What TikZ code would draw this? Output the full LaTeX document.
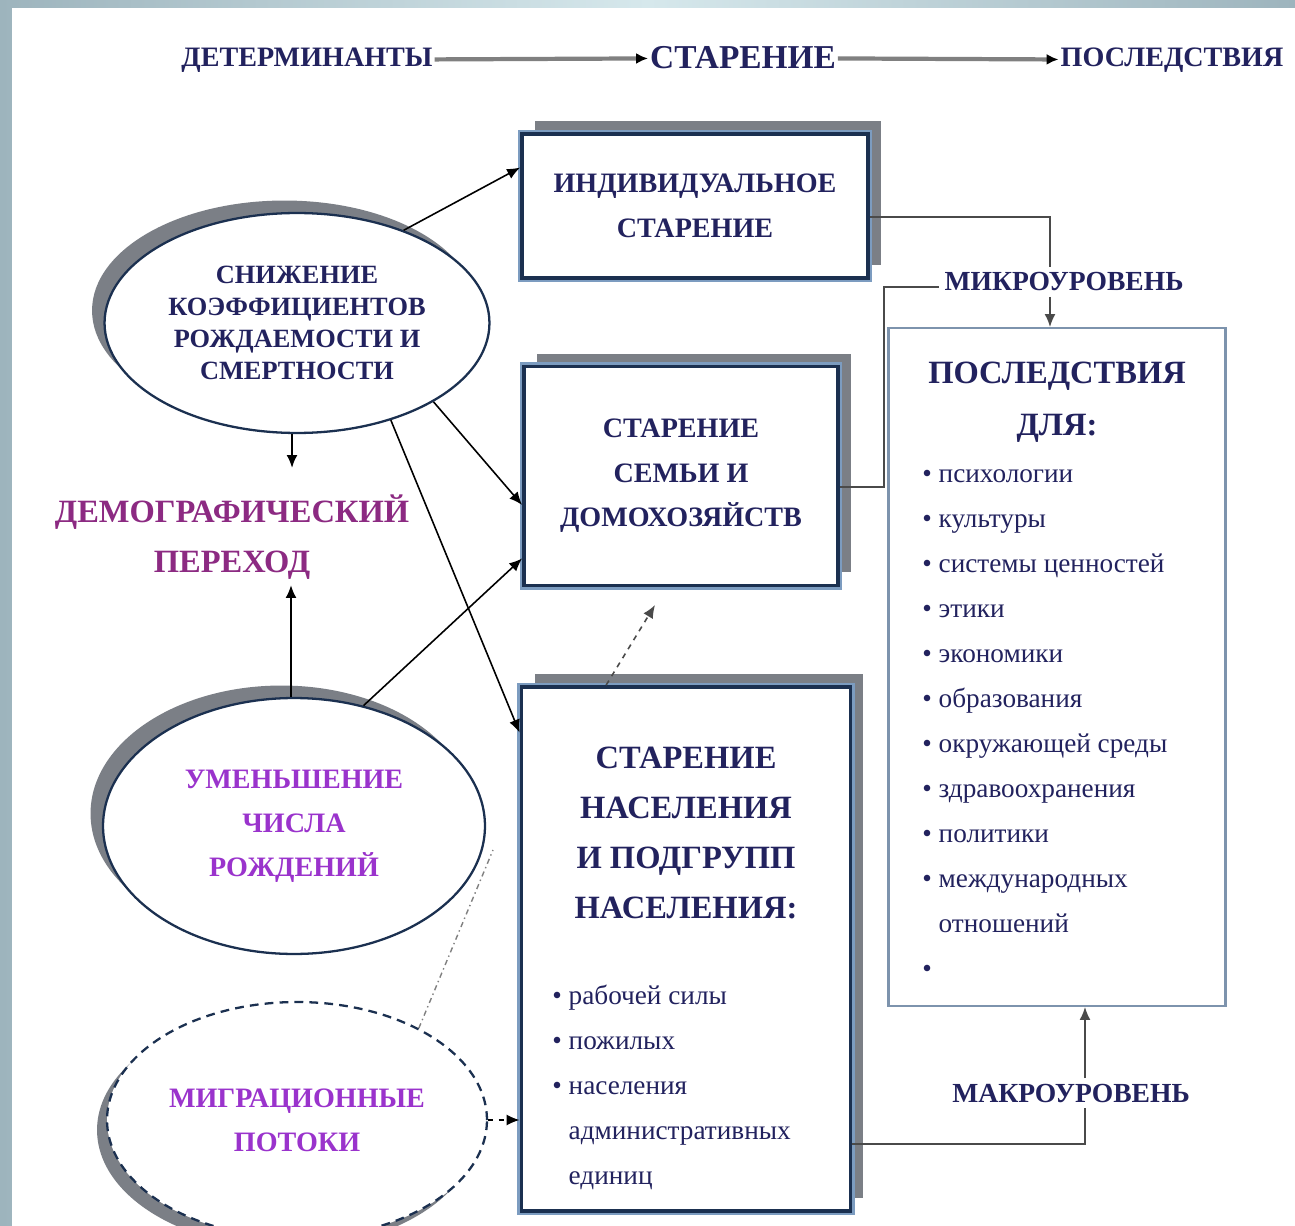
\documentclass[tikz,border=0pt]{standalone}
\usepackage{fontspec}
\setmainfont{Liberation Serif}
\usetikzlibrary{arrows.meta,shapes.geometric,shadows,calc}

\definecolor{textnavy}{HTML}{22225E}
\definecolor{demopurple}{HTML}{8C2A82}
\definecolor{birthviolet}{HTML}{9A33CC}
\definecolor{boxnavy}{HTML}{1B3050}
\definecolor{boxblue}{HTML}{7C9CC0}
\definecolor{shadowgrey}{HTML}{7B7F86}
\definecolor{framedark}{HTML}{9DB4BD}
\definecolor{framelight}{HTML}{D6E8EC}
\definecolor{linegrey}{HTML}{4A4A4A}

\begin{document}
\begin{tikzpicture}[x=0.02cm, y=-0.02cm,
    agebox/.style={drop shadow={shadow xshift=0.26cm, shadow yshift=0.26cm, fill=shadowgrey, opacity=1},
      preaction={draw=boxblue, line width=5pt}, draw=boxnavy, line width=2.2pt, fill=white,
      text=textnavy, align=center, inner sep=0pt},
    causeoval/.style={ellipse, draw=boxnavy, line width=1.3pt, fill=white, inner sep=0pt, align=center},
    ovalshadow/.style={drop shadow={shadow xshift=-0.25cm, shadow yshift=0.25cm, fill=shadowgrey, opacity=1}},
    migshadow/.style={drop shadow={shadow xshift=-0.2cm, shadow yshift=-0.2cm, fill=shadowgrey, opacity=1}},
    topflow/.style={draw=gray, line width=2.4pt, -{Latex[length=0.24cm, width=0.22cm, color=black]}},
    link/.style={draw=black, line width=0.9pt, -{Latex[length=0.26cm, width=0.22cm]}},
    levelline/.style={draw=linegrey, line width=1.1pt},
    listtext/.style={text=textnavy, align=left, inner sep=0pt, font=\fontsize{15.5}{25.6}\selectfont}]
  % frame of the slide
  \shade[left color=framedark, right color=framedark, middle color=framelight] (0,0) rectangle (1295,1226);
  \fill[white] (12,8) rectangle (1295,1226);
  \useasboundingbox (0,0) rectangle (1295,1226);
  % top line
  \node[inner sep=1pt, text=textnavy, font=\bfseries\fontsize{16}{18}\selectfont] (det) at (307,60) {ДЕТЕРМИНАНТЫ};
  \node[inner sep=1pt, text=textnavy, font=\bfseries\fontsize{19}{22}\selectfont] (star) at (743,58) {СТАРЕНИЕ};
  \node[inner sep=1pt, text=textnavy, font=\bfseries\fontsize{16}{18}\selectfont] (posl) at (1172,60) {ПОСЛЕДСТВИЯ};
  \draw[topflow] (det) -- (star);
  \draw[topflow] (star) -- (posl);
  % ageing boxes
  \node[agebox, minimum width=6.92cm, minimum height=2.88cm, font=\bfseries\fontsize{16}{25.6}\selectfont] (indiv) at (695,206) {ИНДИВИДУАЛЬНОЕ\\СТАРЕНИЕ};
  \node[agebox, minimum width=6.28cm, minimum height=4.38cm, font=\bfseries\fontsize{16}{25.3}\selectfont] (family) at (681,476) {СТАРЕНИЕ\\СЕМЬИ И\\ДОМОХОЗЯЙСТВ};
  \node[agebox, minimum width=6.58cm, minimum height=10.48cm] (popul) at (686,949) {};
  \node[text=textnavy, align=center, font=\bfseries\fontsize{18.5}{28.5}\selectfont] (popultitle) at (686,833) {СТАРЕНИЕ\\НАСЕЛЕНИЯ\\И ПОДГРУПП\\НАСЕЛЕНИЯ:};
  \node[listtext, anchor=north west] (populitems) at (552,973) {\strut\textbullet\ рабочей силы\\
    \strut\textbullet\ пожилых\\
    \strut\textbullet\ населения\\
    \strut\phantom{\textbullet}\ административных\\
    \strut\phantom{\textbullet}\ единиц};
  % consequences box
  \node[draw=boxblue!70!gray, line width=1.2pt, fill=white, minimum width=6.74cm, minimum height=13.56cm] (conseq) at (1057,667) {};
  \node[text=textnavy, align=center, font=\bfseries\fontsize{18.5}{29.6}\selectfont] (conseqtitle) at (1057,402) {ПОСЛЕДСТВИЯ\\ДЛЯ:};
  \node[listtext, anchor=north west] (conseqitems) at (922,451) {\strut\textbullet\ психологии\\
    \strut\textbullet\ культуры\\
    \strut\textbullet\ системы ценностей\\
    \strut\textbullet\ этики\\
    \strut\textbullet\ экономики\\
    \strut\textbullet\ образования\\
    \strut\textbullet\ окружающей среды\\
    \strut\textbullet\ здравоохранения\\
    \strut\textbullet\ политики\\
    \strut\textbullet\ международных\\
    \strut\phantom{\textbullet}\ отношений\\
    \strut\textbullet};
  % levels
  \node[inner sep=3pt, text=textnavy, font=\bfseries\fontsize{15.7}{18}\selectfont] (micro) at (1064,282) {МИКРОУРОВЕНЬ};
  \node[inner sep=3pt, text=textnavy, font=\bfseries\fontsize{15.7}{18}\selectfont] (macro) at (1071,1093) {МАКРОУРОВЕНЬ};
  % causes
  \node[causeoval, ovalshadow, minimum width=7.7cm, minimum height=4.4cm, text=textnavy, font=\bfseries\fontsize{15}{18.2}\selectfont] (decline) at (297,323) {СНИЖЕНИЕ\\КОЭФФИЦИЕНТОВ\\РОЖДАЕМОСТИ И\\СМЕРТНОСТИ};
  \node[inner sep=3pt, align=center, text=demopurple, font=\bfseries\fontsize{18.5}{28.5}\selectfont] (transit) at (232,537) {ДЕМОГРАФИЧЕСКИЙ\\ПЕРЕХОД};
  \node[causeoval, ovalshadow, minimum width=7.64cm, minimum height=5.12cm, text=birthviolet, font=\bfseries\fontsize{16}{25}\selectfont] (births) at (294,826) {УМЕНЬШЕНИЕ\\ЧИСЛА\\РОЖДЕНИЙ};
  \node[causeoval, migshadow, dash pattern=on 5pt off 3.5pt, minimum width=7.6cm, minimum height=4.72cm, text=birthviolet, font=\bfseries\fontsize{16}{25}\selectfont] (migr) at (297,1120) {МИГРАЦИОННЫЕ\\ПОТОКИ};
  % arrows from the causes
  \draw[link] (decline.41) -- ($(indiv.north west)!.24!(indiv.south west)$);
  \draw[link] (decline.-30) -- ($(family.north west)!.63!(family.south west)$);
  \draw[link] (decline.-46) -- ($(popul.north west)!.09!(popul.south west)$);
  \draw[link] (births.60) -- ($(family.north west)!.87!(family.south west)$);
  \draw[link, line width=1.2pt, shorten >=0.42cm] ([xshift=-0.1cm]decline.south) -- ([xshift=-0.1cm]decline.south |- transit.north);
  \draw[link, line width=1.2pt] ([xshift=-0.06cm]births.north) -- ([xshift=-0.06cm]births.north |- transit.south);
  \draw[link, dashed] (migr.east) -- (migr.east -| popul.west);
  % dashed hints
  \coordinate (famtip) at (655,605);
  \coordinate (migrend) at (493,850);
  \draw[link, dashed, draw=linegrey] ($(popul.north west)!.26!(popul.north east)$) -- (famtip);
  \draw[gray, line width=0.8pt, dash dot] (migr.37) -- (migrend);
  % micro and macro level
  \draw[levelline] ([yshift=-0.22cm]indiv.east) -| ([xshift=-0.28cm]micro.north);
  \draw[levelline] ([yshift=-0.22cm]family.east) -- ++(44,0) |- ([yshift=-0.1cm]micro.west);
  \draw[link, draw=linegrey] ([xshift=-0.28cm]micro.south) -- ([xshift=-0.28cm]micro.south |- conseq.north);
  \draw[levelline] ($(popul.north east)!.87!(popul.south east)$) -| ([xshift=0.28cm]macro.south);
  \draw[link, draw=linegrey] ([xshift=0.28cm]macro.north) -- ([xshift=0.28cm]macro.north |- conseq.south);
\end{tikzpicture}
\end{document}
